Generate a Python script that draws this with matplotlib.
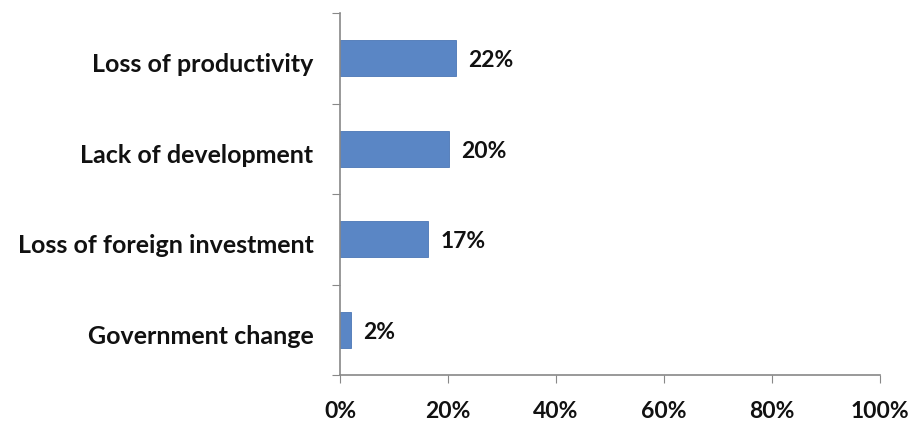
import matplotlib
matplotlib.use("Agg")
import matplotlib.pyplot as plt
import numpy as np

categories = ["Government change", "Loss of foreign investment", "Lack of development", "Loss of productivity"]
values = [2.0, 16.3, 20.1, 21.5]
value_labels = ["2%", "17%", "20%", "22%"]
xtick_vals = [0, 20, 40, 60, 80, 100]
xtick_labels = ["0%", "20%", "40%", "60%", "80%", "100%"]

plt.rcParams['font.family'] = ['Lato', 'DejaVu Sans']
fig = plt.figure(figsize=(9.13, 4.24), dpi=100)
ax = fig.add_axes([340/913, 49/424, 540/913, 362/424])

y = np.arange(len(categories))
bar_color = "#5A86C5"
ax.barh(y, values, height=0.4, color=bar_color, edgecolor="#4A76B5", linewidth=0.6)
for yi, v, lab in zip(y, values, value_labels):
    ax.text(v + 2.3, yi - 0.03, lab, va="center", ha="left", fontsize=16.5, fontweight="bold", color="#111111")

ax.set_xlim(0, 100)
ax.set_ylim(-0.5, len(categories) - 0.5)
ax.set_xticks(xtick_vals)
ax.set_xticklabels(xtick_labels, fontsize=16.5, fontweight="bold", color="#111111")
ax.set_yticks(np.arange(len(categories) + 1) - 0.5)
ax.set_yticklabels([])
ax.set_yticks(y - 0.05, minor=True)
ax.set_yticklabels(categories, minor=True, fontsize=18, fontweight="bold", color="#111111")
ax.tick_params(axis="y", which="minor", length=0, pad=19)
ax.tick_params(axis="y", which="major", length=6, color="#888888", direction="out")
ax.tick_params(axis="x", which="major", length=6, color="#888888", direction="out", pad=13)
for s in ["top", "right"]:
    ax.spines[s].set_visible(False)
for s in ["left", "bottom"]:
    ax.spines[s].set_color("#888888")
    ax.spines[s].set_linewidth(1.2)

fig.savefig("out.png", dpi=100, facecolor="white")
